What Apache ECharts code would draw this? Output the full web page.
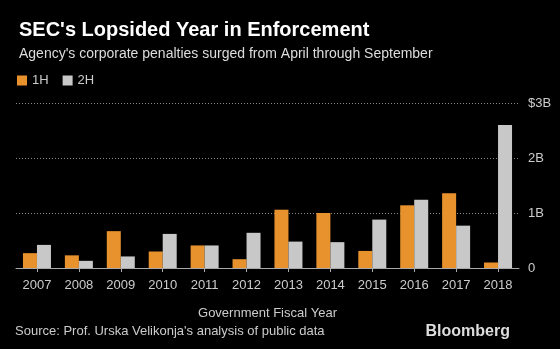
<!DOCTYPE html>
<html>
<head>
<meta charset="utf-8">
<script src="https://cdn.jsdelivr.net/npm/echarts@6/dist/echarts.min.js"></script>
<style>
  html, body { margin: 0; padding: 0; background: #000; }
  #chart { width: 560px; height: 349px; }
</style>
</head>
<body>
<div id="chart"></div>
<script>
// Fiscal years and half-year corporate penalty totals (billions of dollars)
const years = ['2007','2008','2009','2010','2011','2012','2013','2014','2015','2016','2017','2018'];
const firstHalf = [0.27, 0.23, 0.67, 0.30, 0.41, 0.16, 1.06, 1.00, 0.31, 1.14, 1.36, 0.10];
const secondHalf = [0.42, 0.13, 0.21, 0.62, 0.41, 0.64, 0.48, 0.47, 0.88, 1.24, 0.77, 2.60];
const yTickLabels = { 0: '0', 1: '1B', 2: '2B', 3: '$3B' };

const FONT = 'Liberation Sans';
const chart = echarts.init(document.getElementById('chart'));

chart.setOption({
  backgroundColor: '#000',
  animation: false,
  textStyle: { fontFamily: FONT },
  title: [
    {
      text: "SEC's Lopsided Year in Enforcement",
      left: 14, top: 15,
      textStyle: { color: '#fff', fontSize: 20, fontWeight: 'bold', fontFamily: FONT }
    },
    {
      text: "Agency's corporate penalties surged from April through September",
      left: 14, top: 42,
      textStyle: { color: '#ddd', fontSize: 14, fontWeight: 'normal', fontFamily: FONT }
    }
  ],
  legend: {
    left: 12, top: 69,
    icon: 'rect', itemWidth: 10, itemHeight: 10, itemGap: 14,
    textStyle: { color: '#ccc', fontSize: 13, fontFamily: FONT },
    data: ['1H', '2H']
  },
  grid: { left: 16, right: 41, top: 103, bottom: 81 },
  xAxis: {
    type: 'category',
    data: years,
    name: 'Government Fiscal Year',
    nameLocation: 'middle',
    nameGap: 39,
    nameTextStyle: { color: '#ccc', fontSize: 13, fontFamily: FONT },
    axisLine: { lineStyle: { color: '#aaa', width: 1 } },
    axisTick: { show: true, alignWithLabel: true, length: 4, lineStyle: { color: '#aaa' } },
    axisLabel: { color: '#ccc', fontSize: 13, margin: 11, fontFamily: FONT }
  },
  yAxis: {
    type: 'value',
    position: 'right',
    min: 0, max: 3, interval: 1,
    axisLine: { show: false },
    axisTick: { show: false },
    axisLabel: {
      color: '#ccc', fontSize: 13, margin: 9, fontFamily: FONT,
      formatter: v => yTickLabels[v]
    },
    splitLine: { lineStyle: { color: '#888', type: [1, 2], width: 1 } }
  },
  series: [
    {
      name: '1H', type: 'bar', data: firstHalf,
      barWidth: 14, barGap: '0%',
      itemStyle: { color: '#e8922e' }
    },
    {
      name: '2H', type: 'bar', data: secondHalf,
      barWidth: 14, barGap: '0%',
      itemStyle: { color: '#c8c8c8' }
    }
  ],
  graphic: [
    {
      type: 'text', left: 15, top: 325,
      style: { text: "Source: Prof. Urska Velikonja's analysis of public data", fill: '#ccc', font: '13px ' + FONT }
    },
    {
      type: 'text', right: 50, top: 324,
      style: { text: 'Bloomberg', fill: '#ddd', font: 'bold 16px ' + FONT }
    }
  ]
});
</script>
</body>
</html>
